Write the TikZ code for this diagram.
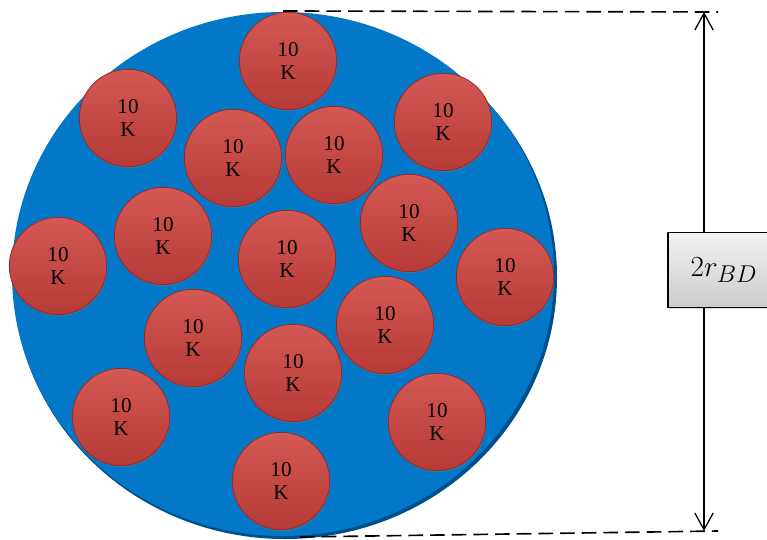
\documentclass[tikz,border=0pt]{standalone}
\usepackage{fontspec}
\setmainfont{Liberation Serif}
\usetikzlibrary{arrows.meta,shadows}

\definecolor{diskblue}{RGB}{4,120,200}
\definecolor{diskedge}{RGB}{0,78,140}
\definecolor{ballred}{RGB}{206,66,62}
\definecolor{balledge}{RGB}{150,42,40}

\tikzset{
  ball/.style={circle, draw=balledge, line width=0.7pt,
    top color=ballred!88!white, bottom color=ballred!88!black,
    minimum size=2.92cm, inner sep=0pt, align=center,
    font=\fontsize{18}{20}\selectfont,
    drop shadow={shadow xshift=0.6pt, shadow yshift=-1.2pt, opacity=0.35}},
  dimline/.style={black, line width=1.4pt, dash pattern=on 12.5pt off 6pt},
  dimarrow/.style={black, line width=1.1pt, -{Straight Barb[length=5mm,width=5.5mm]}},
  labelbox/.style={draw, line width=1pt, top color=gray!10, bottom color=gray!40,
    minimum width=3.36cm, minimum height=2.25cm, inner sep=0pt,
    font=\fontsize{31}{36}\selectfont,
    drop shadow={shadow xshift=1pt, shadow yshift=-1.5pt, opacity=0.3}}
}

\begin{document}
\begin{tikzpicture}[x=0.03cm, y=-0.03cm]
		\useasboundingbox (0,0) rectangle (767,539);
		\clip (0,0) rectangle (767,539);
		% the blue disk
		\fill[diskedge] (285,277) ellipse [x radius=272, y radius=262];
		\fill[diskblue] (283,274) ellipse [x radius=271, y radius=262];
		% red balls
		\node[ball] (b1) at (288,61) {10\\K};
		\node[ball] (b2) at (128,118) {10\\K};
		\node[ball] (b3) at (443,122) {10\\K};
		\node[ball] (b4) at (233,158) {10\\K};
		\node[ball] (b5) at (334,155) {10\\K};
		\node[ball] (b6) at (163,236) {10\\K};
		\node[ball] (b7) at (409,223) {10\\K};
		\node[ball] (b8) at (58,266) {10\\K};
		\node[ball] (b9) at (287,259) {10\\K};
		\node[ball] (b10) at (505,277) {10\\K};
		\node[ball] (b11) at (193,338) {10\\K};
		\node[ball] (b12) at (385,325) {10\\K};
		\node[ball] (b13) at (293,373) {10\\K};
		\node[ball] (b14) at (121,417) {10\\K};
		\node[ball] (b15) at (437,422) {10\\K};
		\node[ball] (b16) at (281,481) {10\\K};
		% dimension of the diameter
		\coordinate (disktop) at (283,11);
		\coordinate (diskbot) at (300,537);
		\coordinate (toptick) at (718,12);
		\coordinate (bottick) at (718,531);
		\coordinate (dimtop) at (704,12);
		\coordinate (dimbot) at (704,531);
		\draw[dimline] (disktop) -- (toptick);
		\draw[dimline] (diskbot) -- (bottick);
		\node[labelbox] (label) at (724,270) {$2r_{BD}$};
		\draw[dimarrow] (label.north -| dimtop) -- (dimtop);
		\draw[dimarrow] (label.south -| dimbot) -- (dimbot);
	\end{tikzpicture}
\end{document}
